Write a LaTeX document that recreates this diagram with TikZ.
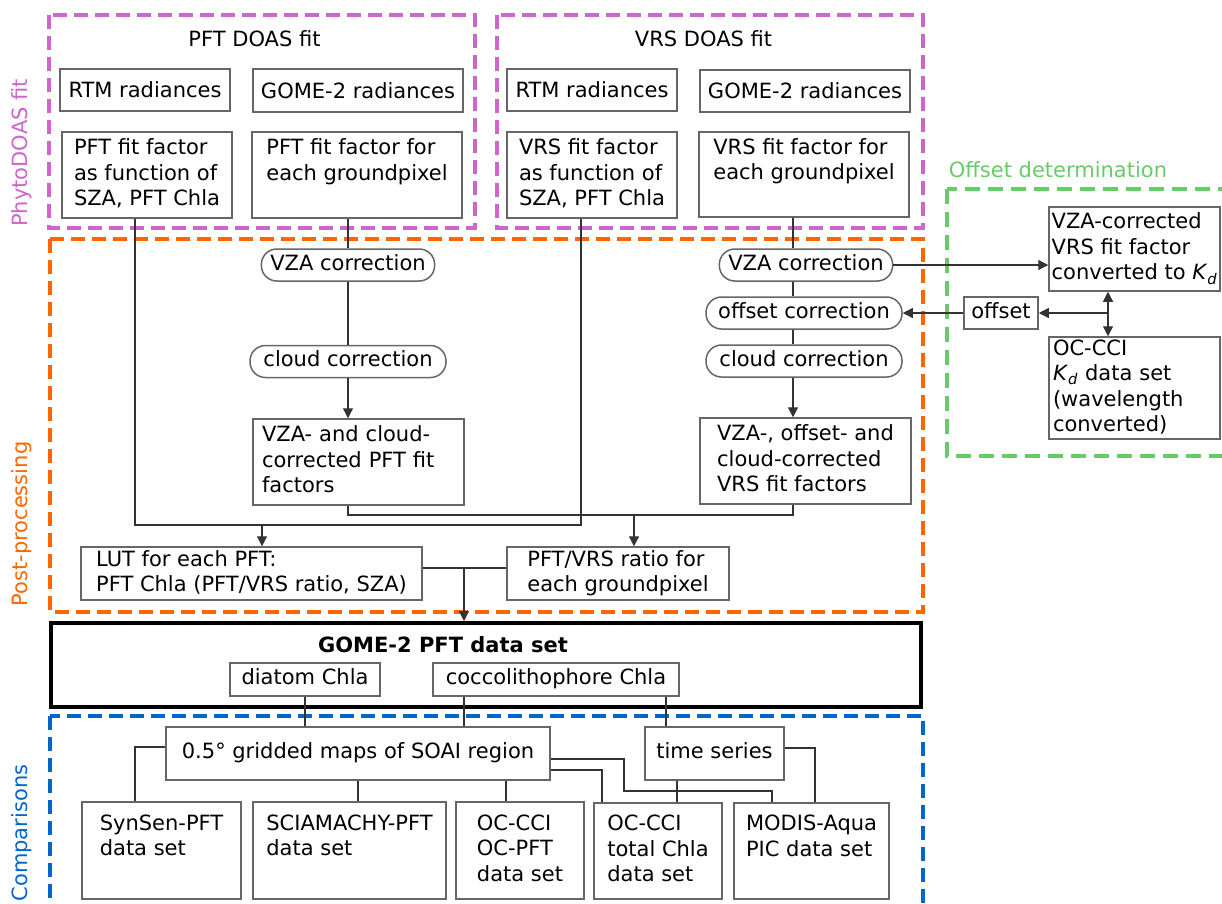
\documentclass[tikz,border=0pt]{standalone}
\usepackage{fontspec}
\setmainfont{DejaVu Sans}
\usetikzlibrary{arrows.meta}
\newcommand{\diagfont}{\fontsize{21pt}{25.5pt}\selectfont}
\newcommand{\bstrut}{\rule[-5pt]{0pt}{20pt}}
\newcommand{\Kd}{\textit{K}\textsubscript{\textit{d}}}
\definecolor{phyto}{HTML}{CC66CC}
\definecolor{post}{HTML}{FF6600}
\definecolor{offs}{HTML}{66CC66}
\definecolor{comp}{HTML}{0066CC}
\tikzset{
  box/.style 2 args={draw=black!60, line width=1.5pt, align=left, inner sep=0pt,
    minimum width=#1, minimum height=#2,
    execute at begin node=\bstrut, execute at end node=\bstrut},
  lowbox/.style 2 args={box={#1}{#2},
    execute at begin node=\rule[-2pt]{0pt}{22pt}, execute at end node=},
  pill/.style={draw=black!60, line width=1.5pt, rounded corners=15.5pt, inner xsep=9pt,
    inner ysep=0pt, minimum height=32pt, execute at begin node=\bstrut},
  bigbox/.style={draw=black, line width=4pt, minimum width=870pt, minimum height=84pt},
  conn/.style={black!80, line width=1.2pt},
  arr/.style={conn, -{Triangle[length=10pt, width=10pt]}},
  darr/.style={conn, {Triangle[length=10pt, width=10pt]}-{Triangle[length=10pt, width=10pt]}},
  frame/.style={line width=3.2pt, dash pattern=on 14pt off 7pt},
  region/.style={rotate=90},
}

\begin{document}
\begin{tikzpicture}[x=1pt, y=-1pt, font=\diagfont]
  \useasboundingbox (0,0) rectangle (1222,903);

  % ---------------- frames ----------------
  \draw[frame, phyto] (49,15) rectangle (475,228);
  \draw[frame, phyto] (497,15) rectangle (923,228);
  \draw[frame, post] (50,239) rectangle (923,612);
  \draw[frame, offs, dash pattern=on 15pt off 8pt] (947,189) rectangle (1260,456);
  \draw[frame, comp] (50,716) rectangle (923,940);
  \node[region, text=phyto] (phytolabel) at (22,153) {PhytoDOAS fit};
  \node[region, text=post] (postlabel) at (22,524) {Post-processing};
  \node[region, text=comp] (complabel) at (22,833) {Comparisons};

  % ---------------- PFT DOAS fit ----------------
  \node (pfttitle) at (254.5,39) {PFT DOAS fit};
  \node[lowbox={170pt}{42pt}] (pftrtm) at (145,90) {RTM radiances};
  \node[lowbox={210pt}{43pt}] (pftgome) at (358,90.5) {GOME-2 radiances};
  \node[box={170pt}{86pt}] (pftff) at (147,175) {PFT fit factor\\as function of\\SZA, PFT Chla};
  \node[box={210pt}{86pt}] (pftpix) at (357,175) {PFT fit factor for\\each groundpixel\\~};

  % ---------------- VRS DOAS fit ----------------
  \node (vrstitle) at (703.5,39) {VRS DOAS fit};
  \node[lowbox={170pt}{42pt}] (vrsrtm) at (592,90) {RTM radiances};
  \node[lowbox={210pt}{42pt}] (vrsgome) at (805,91) {GOME-2 radiances};
  \node[box={170pt}{86pt}] (vrsff) at (592,175) {VRS fit factor\\as function of\\SZA, PFT Chla};
  \node[box={210pt}{85pt}] (vrspix) at (804,174.5) {VRS fit factor for\\each groundpixel\\~};

  % ---------------- post-processing ----------------
  \node[pill] (pftvza) at (348,265) {VZA correction};
  \node[pill, minimum width=196pt] (pftcloud) at (348,361.5) {cloud correction};
  \node[box={211pt}{86pt}, text width=193pt, inner xsep=9pt] (pftcorr) at (358.5,462)
    {VZA- and cloud-\\corrected PFT fit\\factors};
  \node[pill] (vrsvza) at (806,265) {VZA correction};
  \node[pill, minimum width=196pt] (vrsoff) at (804,313) {offset correction};
  \node[pill, minimum width=196pt] (vrscloud) at (804,361) {cloud correction};
  \node[box={211pt}{86pt}] (vrscorr) at (805.5,461) {VZA-, offset- and\\cloud-corrected\\VRS fit factors};
  \node[box={341pt}{53pt}] (lut) at (251.5,573.5) {LUT for each PFT:\\PFT Chla (PFT/VRS ratio, SZA)};
  \node[box={222pt}{53pt}] (ratio) at (618,573.5) {PFT/VRS ratio for\\each groundpixel};

  % ---------------- offset determination ----------------
  \node[text=offs] (offstitle) at (1058,170) {Offset determination};
  \node[box={171pt}{84pt}] (vzak) at (1134.5,249) {VZA-corrected\\VRS fit factor\\converted to \Kd};
  \node[box={74pt}{32pt}] (offset) at (1001,313) {offset};
  \node[box={171pt}{102pt}, text width=163pt, inner xsep=4pt] (occi) at (1134.5,388)
    {OC-CCI\\\Kd{} data set\\(wavelength\\converted)};

  % ---------------- data set ----------------
  \node[bigbox] (gome2) at (486,665) {};
  \node[font=\diagfont\bfseries] (gome2title) at (443,645) {GOME-2 PFT data set};
  \node[box={150pt}{33pt}] (diatom) at (305,679.5) {diatom Chla};
  \node[box={246pt}{33pt}] (cocco) at (556,679.5) {coccolithophore Chla};

  % ---------------- comparisons ----------------
  \node[box={384pt}{53pt}] (gridded) at (358,753.5) {0.5° gridded maps of SOAI region};
  \node[box={139pt}{53pt}] (timeser) at (714.5,753.5) {time series};
  \node[box={159pt}{97pt}] (synsen) at (161.5,850.5) {SynSen-PFT\\data set\\~};
  \node[box={193pt}{97pt}] (sciam) at (349.5,850.5) {SCIAMACHY-PFT\\data set\\~};
  \node[box={128pt}{97pt}] (ocpft) at (520,850.5) {OC-CCI\\OC-PFT\\data set};
  \node[box={128pt}{96pt}] (totchla) at (658,851) {OC-CCI\\total Chla\\data set};
  \node[box={155pt}{96pt}] (modis) at (811.5,851) {MODIS-Aqua\\PIC data set\\~};

  % junctions
  \coordinate (lutbus) at (262,525);
  \coordinate (ratiobus) at (634,515);
  \coordinate (vrsx) at (793,0);
  \coordinate (kdx) at (1108,313);
  \coordinate (databus) at (464,568);
  \coordinate (modisbend) at (624,791);

  % PFT chain
  \draw[conn] (pftvza.north |- pftpix.south) -- (pftvza.north);
  \draw[conn] (pftvza) -- (pftcloud);
  \draw[arr] (pftcloud.south) -- (pftcloud.south |- pftcorr.north);
  \draw[conn] ([xshift=-12pt]pftff.south) |- (lutbus) -| ([xshift=-11pt]vrsff.south);
  \draw[arr] (lutbus) -- (lutbus |- lut.north);

  % VRS chain
  \draw[conn] (vrsx |- vrspix.south) -- (vrsx |- vrsvza.north);
  \draw[conn] (vrsx |- vrsvza.south) -- (vrsx |- vrsoff.north);
  \draw[conn] (vrsx |- vrsoff.south) -- (vrsx |- vrscloud.north);
  \draw[arr] (vrsx |- vrscloud.south) -- (vrsx |- vrscorr.north);
  \draw[conn] (pftcloud.south |- pftcorr.south) |- (ratiobus) -| (vrsx |- vrscorr.south);
  \draw[arr] (ratiobus) -- (ratiobus |- ratio.north);

  % offset loop
  \draw[arr] (vrsvza.east) -- (vrsvza.east -| vzak.west);
  \draw[darr] (kdx |- vzak.south) -- (kdx |- occi.north);
  \draw[arr] (kdx) -- (kdx -| offset.east);
  \draw[arr] (offset.west) -- (offset.west -| vrsoff.east);

  % to the data set
  \draw[conn] (lut.east |- databus) -- (ratio.west |- databus);
  \draw[arr] (databus) -- (databus |- gome2.north);
  \draw[conn] (diatom.south) -- (diatom.south |- gridded.north);
  \draw[conn] ([xshift=-92pt]cocco.south) -- ([xshift=-92pt]cocco.south |- gridded.north);
  \draw[conn] ([xshift=110pt]cocco.south) -- ([xshift=110pt]cocco.south |- timeser.north);

  % comparisons
  \draw[conn] ([yshift=6.5pt]gridded.west) -| ([xshift=-26.5pt]synsen.north);
  \draw[conn] (gridded.south) -- (gridded.south |- sciam.north);
  \draw[conn] ([xshift=148pt]gridded.south) -- ([xshift=148pt]gridded.south |- ocpft.north);
  \draw[conn] ([yshift=-16.5pt]gridded.east) -| ([xshift=-56pt]totchla.north);
  \draw[conn] ([yshift=-5.5pt]gridded.east) -| (modisbend) -| ([xshift=-39.5pt]modis.north);
  \draw[conn] ([xshift=-37.5pt]timeser.south) -- ([xshift=-37.5pt]timeser.south |- totchla.north);
  \draw[conn] ([yshift=5.5pt]timeser.east) -| ([xshift=3.5pt]modis.north);
\end{tikzpicture}
\end{document}
